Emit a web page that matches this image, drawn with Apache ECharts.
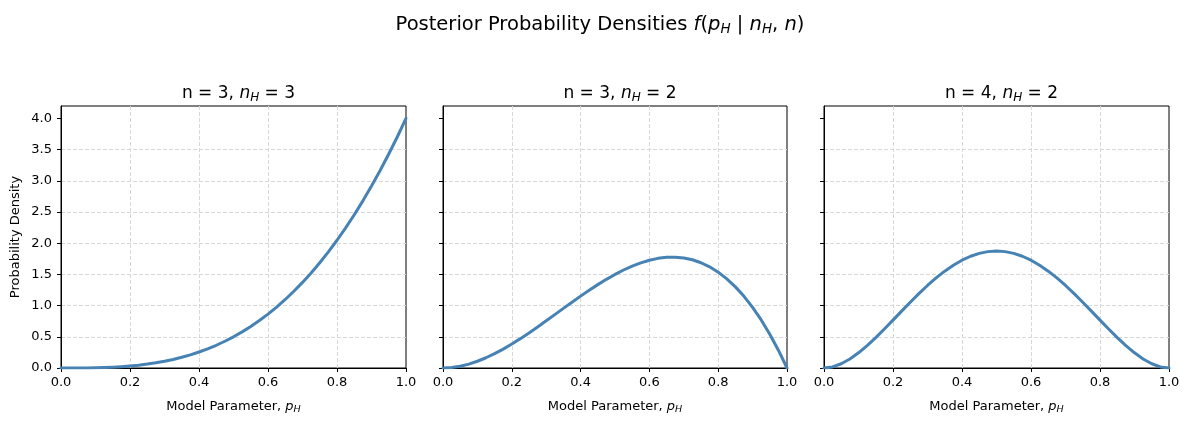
<!DOCTYPE html>
<html>
<head>
<meta charset="utf-8">
<script src="https://cdn.jsdelivr.net/npm/echarts@6/dist/echarts.min.js"></script>
<style>html,body{margin:0;padding:0;background:#fff}#c{width:1189px;height:425px}</style>
</head>
<body>
<div id="c"></div>
<script>
const xValues = [0,0.025,0.05,0.075,0.1,0.125,0.15,0.175,0.2,0.225,0.25,0.275,0.3,0.325,0.35,0.375,0.4,0.425,0.45,0.475,0.5,
  0.525,0.55,0.575,0.6,0.625,0.65,0.675,0.7,0.725,0.75,0.775,0.8,0.825,0.85,0.875,0.9,0.925,0.95,0.975,1.0];
const densityN3H3 = [0,0.0001,0.0005,0.0017,0.004,0.0078,0.0135,0.0214,0.032,0.0456,0.0625,0.0832,0.108,0.1373,0.1715,0.2109,0.256,0.3071,0.3645,0.4287,0.5,
  0.5788,0.6655,0.7604,0.864,0.9766,1.0985,1.2302,1.372,1.5243,1.6875,1.8619,2.048,2.2461,2.4565,2.6797,2.916,3.1658,3.4295,3.7074,4.0];
const densityN3H2 = [0,0.0073,0.0285,0.0624,0.108,0.1641,0.2295,0.3032,0.384,0.4708,0.5625,0.6579,0.756,0.8556,0.9555,1.0547,1.152,1.2463,1.3365,1.4214,1.5,
  1.5711,1.6335,1.6862,1.728,1.7578,1.7745,1.7769,1.764,1.7346,1.6875,1.6217,1.536,1.4293,1.3005,1.1484,0.972,0.7701,0.5415,0.2852,0];
const densityN4H2 = [0,0.0178,0.0677,0.1444,0.243,0.3589,0.4877,0.6253,0.768,0.9122,1.0547,1.1925,1.323,1.4438,1.5527,1.648,1.728,1.7916,1.8377,1.8656,1.875,
  1.8656,1.8377,1.7916,1.728,1.648,1.5527,1.4438,1.323,1.1925,1.0547,0.9122,0.768,0.6253,0.4877,0.3589,0.243,0.1444,0.0677,0.0178,0];
const panelTitles = [['3','3'],['3','2'],['4','2']];
const xTickValues = [0,0.2,0.4,0.6,0.8,1.0];
const yTickValues = [0,0.5,1.0,1.5,2.0,2.5,3.0,3.5,4.0];

const series = [densityN3H3, densityN3H2, densityN4H2];
const FONT = 'DejaVu Sans';
const lefts = [61, 443, 824];
const widths = [345, 344, 345];
const chart = echarts.init(document.getElementById('c'), null, {renderer: 'canvas'});

const subRich = {
  n: {fontFamily: FONT, fontWeight: 'normal', fontSize: 17, color: '#000'},
  it: {fontFamily: FONT, fontWeight: 'normal', fontStyle: 'italic', fontSize: 17, color: '#000'},
  sub: {fontFamily: FONT, fontWeight: 'normal', fontStyle: 'italic', fontSize: 12, color: '#000', padding: [8,0,0,0]}
};

const titles = [{
  text: '{t|Posterior Probability Densities }{it|f}{t|(}{it|p}{sub|H}{t| | }{it|n}{sub|H}{t|, }{it|n}{t|)}',
  left: 595, top: 8, textAlign: 'center',
  textStyle: {
    fontWeight: 'normal',
    rich: {
      t: {fontFamily: FONT, fontWeight: 'normal', fontSize: 19.5, color: '#000'},
      it: {fontFamily: FONT, fontWeight: 'normal', fontStyle: 'italic', fontSize: 19.5, color: '#000'},
      sub: {fontFamily: FONT, fontWeight: 'normal', fontStyle: 'italic', fontSize: 13.5, color: '#000', padding: [9,0,0,0]}
    }
  }
}];
const grids = [], xAxes = [], yAxes = [], ser = [];
const gridLine = {show: true, showMinLine: false, showMaxLine: false, lineStyle: {color: '#d8d8d8', type: [4, 2], width: 1}};
for (let i = 0; i < 3; i++) {
  titles.push({
    text: '{n|n = ' + panelTitles[i][0] + ', }{it|n}{sub|H}{n| = ' + panelTitles[i][1] + '}',
    left: lefts[i] + widths[i] / 2, top: 79, textAlign: 'center',
    textStyle: {fontWeight: 'normal', rich: subRich}
  });
  grids.push({left: lefts[i], width: widths[i], top: 106, height: 262, show: true, borderColor: '#000', borderWidth: 1, backgroundColor: 'transparent'});
  xAxes.push({
    type: 'value', gridIndex: i, min: 0, max: 1, interval: 0.2,
    name: '{n|Model Parameter, }{it|p}{sub|H}', nameLocation: 'middle', nameGap: 31,
    nameTextStyle: {rich: {
      n: {fontFamily: FONT, fontSize: 13, color: '#000'},
      it: {fontFamily: FONT, fontStyle: 'italic', fontSize: 13, color: '#000'},
      sub: {fontFamily: FONT, fontStyle: 'italic', fontSize: 9.5, color: '#000', padding: [6,0,0,0]}
    }},
    axisLine: {show: true, onZero: false, lineStyle: {color: '#000', width: 1}},
    axisTick: {show: true, length: 4, lineStyle: {color: '#000'}},
    axisLabel: {show: true, fontFamily: FONT, fontSize: 13, color: '#000', margin: 8,
      formatter: v => v.toFixed(1), showMinLabel: true, showMaxLabel: true},
    splitLine: gridLine
  });
  yAxes.push({
    type: 'value', gridIndex: i, min: 0, max: 4.2, interval: 0.5,
    name: i === 0 ? 'Probability Density' : '', nameLocation: 'middle', nameGap: 39,
    nameTextStyle: {fontFamily: FONT, fontSize: 13, color: '#000'},
    axisLine: {show: true, onZero: false, lineStyle: {color: '#000', width: 1}},
    axisTick: {show: true, length: 4, lineStyle: {color: '#000'}, customValues: yTickValues},
    axisLabel: {show: i === 0, fontFamily: FONT, fontSize: 13, color: '#000', margin: 9,
      formatter: v => v.toFixed(1), customValues: yTickValues},
    splitLine: gridLine
  });
  ser.push({
    type: 'line', xAxisIndex: i, yAxisIndex: i, smooth: false, showSymbol: false,
    data: xValues.map((x, k) => [x, series[i][k]]),
    lineStyle: {color: '#4682b4', width: 3, join: 'round', cap: 'round'}, clip: true, animation: false
  });
}
chart.setOption({
  animation: false,
  backgroundColor: '#fff',
  title: titles,
  grid: grids, xAxis: xAxes, yAxis: yAxes, series: ser
});
</script>
</body>
</html>
